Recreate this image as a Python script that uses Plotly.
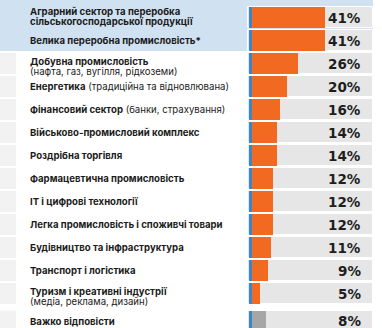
import plotly.graph_objects as go

# ---- data ----
line1 = [
    "Аграрний сектор та переробка",
    "Велика переробна промисловість*",
    "Добувна промисловість",
    "Енергетика",
    "Фінансовий сектор",
    "Військово-промисловий комплекс",
    "Роздрібна торгівля",
    "Фармацевтична промисловість",
    "IT і цифрові технології",
    "Легка промисловість і споживчі товари",
    "Будівництво та інфраструктура",
    "Транспорт і логістика",
    "Туризм і креативні індустрії",
    "Важко відповісти",
]
inline_note = ["", "", "", " (традиційна та відновлювана)", " (банки, страхування)",
               "", "", "", "", "", "", "", "", ""]
line2 = ["сільськогосподарської продукції", "", "(нафта, газ, вугілля, рідкоземи)",
         "", "", "", "", "", "", "", "", "", "(медіа, реклама, дизайн)", ""]
line2_bold = [True] + [False] * 13
values = [41, 41, 26, 20, 16, 14, 14, 12, 12, 12, 11, 9, 5, 8]
is_other = [False] * 13 + [True]

# ---- style ----
W, H = 382, 328
ORANGE = "#f26a21"
BLUE = "#3d86c6"
GREY = "#a6a6a6"
TRACK = "#e6e6e6"
HIGHLIGHT = "#d0e1f2"
LEFTBOX = "#f2f2f2"
TXT = "#1b1b1b"
FS = 9.6
BW = 21 / 23
X0_PX, SLOPE = 251.5, 1.79
XMIN, XMAX = -X0_PX / SLOPE, (W - X0_PX) / SLOPE
TRACK_LO, TRACK_HI = (247.5 - X0_PX) / SLOPE, (373 - X0_PX) / SLOPE
STRIP_LO, STRIP_HI = (249 - X0_PX) / SLOPE, (252 - X0_PX) / SLOPE

n = len(values)
ypos = [i if not is_other[i] else i + 0.2 for i in range(n)]

fig = go.Figure()
# track
fig.add_trace(go.Bar(y=ypos, x=[TRACK_HI - TRACK_LO] * n, base=[TRACK_LO] * n, orientation="h",
                     width=BW, marker=dict(color=TRACK, line=dict(color="white", width=1)),
                     hoverinfo="skip", showlegend=False))
# values
fig.add_trace(go.Bar(y=ypos, x=values, base=0, orientation="h", width=BW,
                     marker=dict(color=[GREY if o else ORANGE for o in is_other], line=dict(width=0)),
                     showlegend=False))
# blue strip
fig.add_trace(go.Bar(y=ypos, x=[STRIP_HI - STRIP_LO] * n, base=[STRIP_LO] * n, orientation="h",
                     width=BW, marker=dict(color=BLUE, line=dict(width=0)),
                     hoverinfo="skip", showlegend=False))

shapes = []
# highlight band for the first two rows
shapes.append(dict(type="rect", xref="paper", yref="y", x0=0, x1=373 / W,
                   y0=-2, y1=ypos[1] + BW / 2, fillcolor=HIGHLIGHT, line=dict(width=0), layer="below"))
for i in range(2, n):
    shapes.append(dict(type="rect", xref="paper", yref="y", x0=0, x1=16 / W,
                       y0=ypos[i] - BW / 2, y1=ypos[i] + BW / 2, fillcolor=LEFTBOX,
                       line=dict(width=0), layer="below"))

ann = []
LX = 28 / W
for i in range(n):
    if line2[i]:
        if line2_bold[i]:
            s1, s2 = 6.5, -4.0
        else:
            s1, s2 = 2.5, -7.5
    else:
        s1, s2 = 0, 0
    t1 = "<b>" + line1[i] + "</b>" + inline_note[i]
    ann.append(dict(xref="paper", yref="y", x=LX, y=ypos[i], yshift=s1, text=t1,
                    xanchor="left", yanchor="middle", showarrow=False,
                    font=dict(family="Inter", size=FS, color=TXT)))
    if line2[i]:
        t2 = ("<b>" + line2[i] + "</b>") if line2_bold[i] else line2[i]
        ann.append(dict(xref="paper", yref="y", x=LX, y=ypos[i], yshift=s2, text=t2,
                        xanchor="left", yanchor="middle", showarrow=False,
                        font=dict(family="Inter", size=FS, color=TXT)))
    ann.append(dict(xref="paper", yref="y", x=363 / W, y=ypos[i], text="<b>%d%%</b>" % values[i],
                    xanchor="right", yanchor="middle", showarrow=False,
                    font=dict(family="DejaVu Sans", size=13.5, color="#1e1e1e")))

fig.update_layout(
    width=W, height=H, margin=dict(l=0, r=0, t=0, b=0),
    paper_bgcolor="white", plot_bgcolor="white",
    barmode="overlay", bargap=0,
    xaxis=dict(range=[XMIN, XMAX], visible=False, fixedrange=True),
    yaxis=dict(range=[13.5, -0.761], visible=False, fixedrange=True),
    shapes=shapes, annotations=ann,
)
fig.write_html("out.html")
